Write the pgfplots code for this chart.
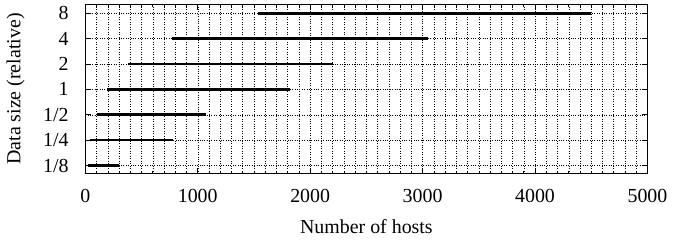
\documentclass[border=0pt]{standalone}
\usepackage{fontspec}
\setmainfont{Liberation Serif}
\usepackage{pgfplots}
\pgfplotsset{compat=1.18}
\begin{document}
\fontsize{20bp}{24bp}\selectfont
\begin{tikzpicture}
\begin{axis}[
  name=main,
  scale only axis,
  width=565bp, height=170bp,
  xmin=0, xmax=5000,
  ymin=-0.32, ymax=6.35,
  xtick={0,1000,2000,3000,4000,5000},
  minor x tick num=9,
  ytick={0,1,2,3,4,5,6},
  yticklabels={1/8,1/4,1/2,1,2,4,8},
  scaled x ticks=false,
  /pgf/number format/assume math mode=true,
  /pgf/number format/1000 sep={},
  tick align=inside,
  major tick length=6bp,
  minor tick length=3bp,
  tick style={black, line width=0.6bp},
  xmajorgrids, xminorgrids, ymajorgrids,
  grid style={black, dotted, line width=0.5bp},
  minor grid style={black, dotted, line width=0.5bp},
  axis line style={black, line width=0.8bp},
  xlabel={Number of hosts},
  ylabel={Data size (relative)},
  xticklabel style={yshift=-9bp},
  yticklabel style={xshift=-10bp},
  ylabel style={yshift=5bp},
  xlabel style={yshift=-3bp},
]
\addplot[black, line width=2.6bp, no marks] coordinates {(20,0) (300,0)};
\addplot[black, line width=2.6bp, no marks] coordinates {(40,1) (780,1)};
\addplot[black, line width=2.6bp, no marks] coordinates {(100,2) (1070,2)};
\addplot[black, line width=2.6bp, no marks] coordinates {(190,3) (1820,3)};
\addplot[black, line width=2.6bp, no marks] coordinates {(380,4) (2200,4)};
\addplot[black, line width=2.6bp, no marks] coordinates {(770,5) (3050,5)};
\addplot[black, line width=2.6bp, no marks] coordinates {(1540,6) (4500,6)};
\end{axis}
\path (main.south east) ++(25bp,0) coordinate (pad);
\useasboundingbox (current bounding box.south west) rectangle (current bounding box.north east -| pad);
\end{tikzpicture}
\end{document}
